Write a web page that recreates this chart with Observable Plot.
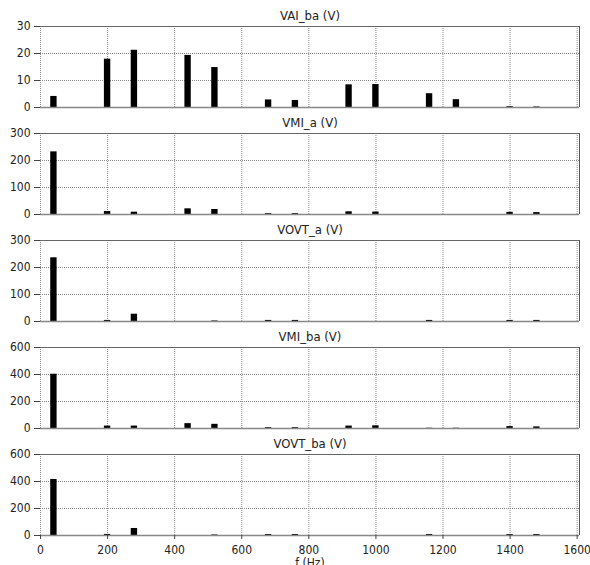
<!DOCTYPE html>
<html><head><meta charset="utf-8">
<script src="https://cdn.jsdelivr.net/npm/d3@7"></script>
<script src="https://cdn.jsdelivr.net/npm/@observablehq/plot@0.6"></script>
<style>
body{margin:0;background:#fff;}
#chart{width:590px;}
.panel{height:107px;overflow:visible;}
.panel.last{height:137px;}
.panel svg{overflow:visible;display:block;}
</style></head><body><div id="chart"></div>
<script>
// Harmonic frequencies (Hz)
const freqs  = [40, 200, 280, 440, 520, 680, 760, 920, 1000, 1160, 1240, 1400, 1480];
// Amplitudes (V) per signal
const vaiBa  = [4.1, 17.9, 21.2, 19.3, 14.8, 2.8, 2.6, 8.4, 8.5, 5.1, 2.9, 0.3, 0.2];
const vmiA   = [232, 11, 8.5, 21, 18.5, 3, 3, 10, 9, 0, 0, 8, 7];
const vovtA  = [236, 4, 27, 0, 2, 4, 4, 0, 0, 4, 0, 4, 4];
const vmiBa  = [402, 18, 18, 36, 31, 6, 6, 18, 20, 2, 2, 14, 12];
const vovtBa = [415, 8, 52, 0, 4, 7, 7, 0, 0, 7, 0, 7, 7];
const series = [vaiBa, vmiA, vovtA, vmiBa, vovtBa];
const titles = ["VAI_ba (V)", "VMI_a (V)", "VOVT_a (V)", "VMI_ba (V)", "VOVT_ba (V)"];
const yMax   = [30, 300, 300, 600, 600];
const yTicks = [[0, 10, 20, 30], [0, 100, 200, 300], [0, 100, 200, 300], [0, 200, 400, 600], [0, 200, 400, 600]];
const xTicks = [0, 200, 400, 600, 800, 1000, 1200, 1400, 1600];
const xMax = 1607;
const halfWidth = 9.5;
const xLabel = "f (Hz)";

const chart = document.getElementById("chart");
series.forEach((values, i) => {
  const last = i === series.length - 1;
  const data = freqs.map((f, k) => ({f, v: values[k]}));
  const marks = [
    Plot.ruleX(xTicks, {stroke: "#888", strokeDasharray: "1,1"}),
    Plot.ruleY(yTicks[i], {stroke: "#888", strokeDasharray: "1,1"}),
    Plot.ruleY([yMax[i]], {stroke: "#666"}),
    Plot.ruleX([xMax], {stroke: "#555"}),
    Plot.rectY(data, {x1: d => d.f - halfWidth, x2: d => d.f + halfWidth, y: "v", fill: "black"}),
    Plot.ruleY([0], {stroke: "#888", strokeWidth: 1.5}),
    Plot.axisY(yTicks[i], {tickSize: 6, tickPadding: 4, label: null, stroke: "#444", fontSize: 12, tickFormat: d => String(d)}),
    Plot.text([titles[i]], {text: d => d, frameAnchor: "top", dy: -11, lineAnchor: "middle", fontSize: 13, fill: "#222"})
  ];
  if (last) {
    marks.push(Plot.axisX(xTicks, {tickSize: 4, tickPadding: 6, label: null, stroke: "#444", fontSize: 12, tickFormat: d => String(d)}));
    marks.push(Plot.text([xLabel], {text: d => d, frameAnchor: "bottom", dy: 23, lineAnchor: "top", fontSize: 12, fill: "#222"}));
  }
  const p = Plot.plot({
    width: 590,
    height: last ? 137 : 107,
    marginLeft: 40, marginRight: 11, marginTop: 26, marginBottom: last ? 30 : 0,
    style: {fontFamily: "DejaVu Sans Condensed, DejaVu Sans", fontSize: "12px", color: "#222", background: "transparent", overflow: "visible"},
    x: {domain: [0, xMax], axis: null},
    y: {domain: [0, yMax[i]], axis: null},
    marks
  });
  const div = document.createElement("div");
  div.className = "panel" + (last ? " last" : "");
  div.appendChild(p);
  chart.appendChild(div);
});
</script></body></html>
